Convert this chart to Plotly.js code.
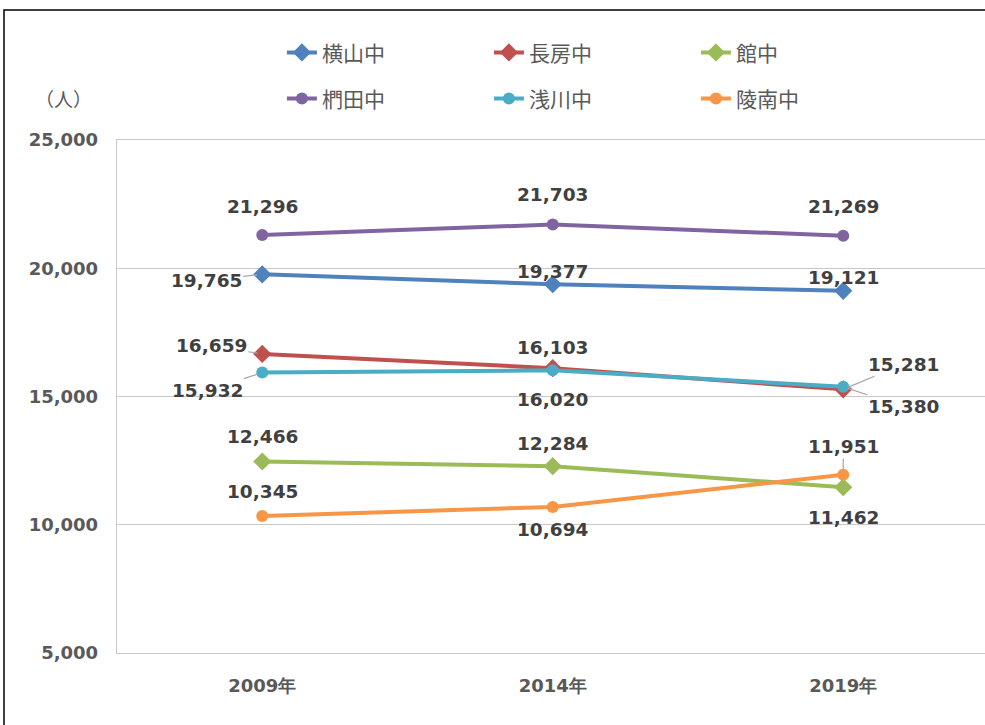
<!DOCTYPE html>
<html>
<head>
<meta charset="utf-8">
<script src="https://cdn.plot.ly/plotly-3.0.1.min.js"></script>
<style>
html,body{margin:0;padding:0;background:#fff;}
#chart{width:985px;height:725px;}
</style>
</head>
<body>
<div id="chart"></div>
<script>
// ---- data ----
const years = ['2009年', '2014年', '2019年'];
const schools = ['横山中', '長房中', '館中', '椚田中', '浅川中', '陵南中'];
const yokoyama = [19765, 19377, 19121];
const nagabusa = [16659, 16103, 15281];
const tate = [12466, 12284, 11462];
const kunugida = [21296, 21703, 21269];
const asakawa = [15932, 16020, 15380];
const ryonan = [10345, 10694, 11951];
const yTicks = [5000, 10000, 15000, 20000, 25000];

// ---- styles ----
const seriesValues = [yokoyama, nagabusa, tate, kunugida, asakawa, ryonan];
const colors = ['#4F81BD', '#C0504D', '#9BBB59', '#8064A2', '#4BACC6', '#F79646'];
const symbols = ['diamond', 'diamond', 'diamond', 'circle', 'circle', 'circle'];
const legendOf = ['legend', 'legend', 'legend', 'legend2', 'legend2', 'legend2'];
// label offsets [dx, dy, leader]  (pixels; dy positive = down)
const labelOffsets = [
  [[-56, 6, true], [0, -13, false], [0, -13, false]],
  [[-51, -8, true], [0, -21, false], [60, -25, true]],
  [[0, -25, false], [0, -23, false], [0, 30, false]],
  [[0, -29, false], [0, -30, false], [0, -29, false]],
  [[-55, 18, true], [0, 29, false], [60, 20, true]],
  [[0, -24, false], [0, 23, false], [0, -28, true]]
];

const traces = schools.map((name, i) => ({
  type: 'scatter',
  mode: 'lines+markers',
  name: name,
  x: years,
  y: seriesValues[i],
  line: {color: colors[i], width: 4},
  marker: {color: colors[i], symbol: symbols[i], size: symbols[i] === 'diamond' ? 14 : 12},
  legend: legendOf[i],
  hoverinfo: 'skip'
}));

const fmt = v => v.toLocaleString('en-US');
const labelFont = {family: 'DejaVu Sans, Verdana, sans-serif', size: 18.5, color: '#404040', weight: 'bold'};
const annotations = [];
schools.forEach((name, i) => {
  seriesValues[i].forEach((v, j) => {
    const [dx, dy, leader] = labelOffsets[i][j];
    const a = {x: j, y: v, xref: 'x', yref: 'y', text: fmt(v), font: labelFont};
    if (leader) {
      Object.assign(a, {showarrow: true, ax: dx, ay: dy, arrowhead: 0, arrowwidth: 1.2,
        arrowcolor: '#A6A6A6', standoff: 5});
    } else {
      Object.assign(a, {showarrow: false, xshift: dx, yshift: -dy});
    }
    annotations.push(a);
  });
});
annotations.push({
  xref: 'paper', yref: 'paper', x: -0.062, y: 1.08, xanchor: 'center', yanchor: 'middle',
  text: '（人）', showarrow: false,
  font: {family: 'Noto Sans CJK JP, sans-serif', size: 19, color: '#595959'}
});

const legendBase = {
  orientation: 'h', xanchor: 'left', yanchor: 'middle',
  entrywidth: 162, entrywidthmode: 'pixels',
  font: {family: 'Noto Sans CJK JP, sans-serif', size: 21, color: '#595959'},
  bgcolor: 'rgba(0,0,0,0)', itemclick: false, itemdoubleclick: false
};

const axisLine = '#C8C8C8';
const tickFont = {family: 'DejaVu Sans, sans-serif', size: 18, color: '#595959', weight: 'bold'};
const layout = {
  width: 985, height: 725,
  margin: {l: 117, r: 0, t: 140, b: 72, pad: 0},
  paper_bgcolor: '#fff', plot_bgcolor: '#fff',
  showlegend: true,
  legend: Object.assign({}, legendBase, {x: 0.19, y: 1.17}),
  legend2: Object.assign({}, legendBase, {x: 0.19, y: 1.08}),
  xaxis: {
    type: 'category', range: [-0.5, 2.488],
    showgrid: false, zeroline: false, showline: true, mirror: true,
    linecolor: axisLine, linewidth: 1.3, ticks: '',
    tickfont: tickFont, ticklabelstandoff: 16, fixedrange: true
  },
  yaxis: {
    range: [5000, 25000], tickvals: yTicks, ticktext: yTicks.map(fmt),
    showgrid: true, gridcolor: axisLine, gridwidth: 1.3,
    showline: true, linecolor: axisLine, linewidth: 1.3, mirror: false,
    zeroline: false, ticks: '',
    tickfont: tickFont, ticklabelstandoff: 14, fixedrange: true
  },
  annotations: annotations,
  shapes: [{
    type: 'rect', xref: 'paper', yref: 'paper',
    x0: (4 - 117) / 868, x1: 1.05, y0: -0.3, y1: (653 - 10) / 513,
    line: {color: '#000', width: 1.5}, fillcolor: 'rgba(0,0,0,0)', layer: 'above'
  }]
};

Plotly.newPlot('chart', traces, layout, {displayModeBar: false, staticPlot: true});
</script>
</body>
</html>
